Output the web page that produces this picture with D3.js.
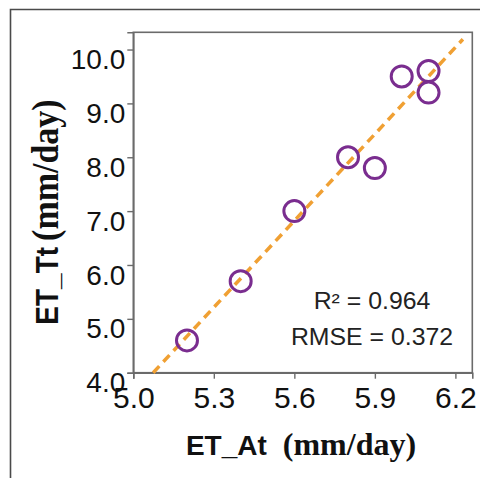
<!DOCTYPE html>
<html><head><meta charset="utf-8">
<script src="https://cdn.jsdelivr.net/npm/d3@7"></script>
<style>body{margin:0;background:#fff}svg{display:block}</style>
</head><body>
<svg id="c" width="480" height="478"></svg>
<script>
const etAt = [5.2, 5.4, 5.6, 5.8, 5.9, 6.0, 6.1, 6.1];
const etTt = [4.6, 5.7, 7.0, 8.0, 7.8, 9.5, 9.6, 9.2];
const fitX = [5.074, 6.228];
const fitY = [4.0, 10.19];
const xTicks = [5.0, 5.3, 5.6, 5.9, 6.2];
const yTicks = [4.0, 5.0, 6.0, 7.0, 8.0, 9.0, 10.0];
const statLabels = ["R\u00B2 = 0.964", "RMSE = 0.372"];

const svg = d3.select("#c");
const L = 133.3, R = 472.3, T = 32.3, B = 372.7;
const x = d3.scaleLinear().domain([5.0, 6.263]).range([L, R]);
const y = d3.scaleLinear().domain([4.0, 10.32]).range([B, T]);

// outer frame
svg.append("path").attr("d", `M10.5,478 L10.5,9.5 L480,9.5`)
  .attr("fill", "none").attr("stroke", "#4a4a4a").attr("stroke-width", 1.6);

// plot frame
svg.append("rect").attr("x", L).attr("y", T).attr("width", R - L).attr("height", B - T)
  .attr("fill", "#fff").attr("stroke", "#6b6b6b").attr("stroke-width", 1.6);

// axes
const xa = svg.append("g").attr("transform", `translate(0,${B})`)
  .call(d3.axisBottom(x).tickValues(xTicks).tickFormat(d3.format(".1f")).tickSize(6).tickPadding(8));
const ya = svg.append("g").attr("transform", `translate(${L},0)`)
  .call(d3.axisLeft(y).tickValues(yTicks).tickFormat(d3.format(".1f")).tickSize(6).tickPadding(2));
[xa, ya].forEach(g => {
  g.select(".domain").attr("stroke", "#6b6b6b").attr("stroke-width", 1.6);
  g.selectAll(".tick line").attr("stroke", "#6b6b6b").attr("stroke-width", 1.4);
  g.selectAll("text").attr("fill", "#111").attr("font-family", "'Liberation Sans', Arial, sans-serif");
});
xa.selectAll("text").attr("font-size", 30);
ya.selectAll("text").attr("font-size", 28).attr("dy", "0.68em");

// fit line
svg.append("line")
  .attr("x1", x(fitX[0])).attr("y1", y(fitY[0]))
  .attr("x2", x(fitX[1])).attr("y2", y(fitY[1]))
  .attr("stroke", "#f0a033").attr("stroke-width", 3.5)
  .attr("stroke-dasharray", "9,6");

// points
svg.append("g").selectAll("circle").data(etAt.map((d, i) => [d, etTt[i]])).join("circle")
  .attr("cx", d => x(d[0])).attr("cy", d => y(d[1])).attr("r", 10.5)
  .attr("fill", "none").attr("stroke", "#7a2d8f").attr("stroke-width", 3);

// stats text
const statY = [308.5, 345];
statLabels.forEach((s, i) => {
  svg.append("text").attr("transform", `translate(372,${statY[i]}) scale(1.08,1)`)
    .attr("text-anchor", "middle").attr("font-size", 23)
    .attr("font-family", "'Liberation Sans', Arial, sans-serif").attr("fill", "#222").text(s);
});

// axis titles
const xt = svg.append("text").attr("transform", "translate(301,455)")
  .attr("text-anchor", "middle").attr("font-weight", "bold").attr("fill", "#111");
xt.append("tspan").attr("font-family", "'Liberation Sans', Arial, sans-serif").attr("font-size", 28).text("ET_At");
xt.append("tspan").attr("font-family", "'Liberation Serif', 'Times New Roman', serif").attr("font-size", 32).attr("dx", 16).text("(mm/day)");

const yt = svg.append("text").attr("transform", "translate(58,212) scale(1.12,1) rotate(-90)")
  .attr("text-anchor", "middle").attr("font-weight", "bold").attr("fill", "#111");
yt.append("tspan").attr("font-family", "'Liberation Sans', Arial, sans-serif").attr("font-size", 28).text("ET_Tt");
yt.append("tspan").attr("font-family", "'Liberation Serif', 'Times New Roman', serif").attr("font-size", 34).attr("dx", 6).text("(mm/day)");
</script>
</body></html>
